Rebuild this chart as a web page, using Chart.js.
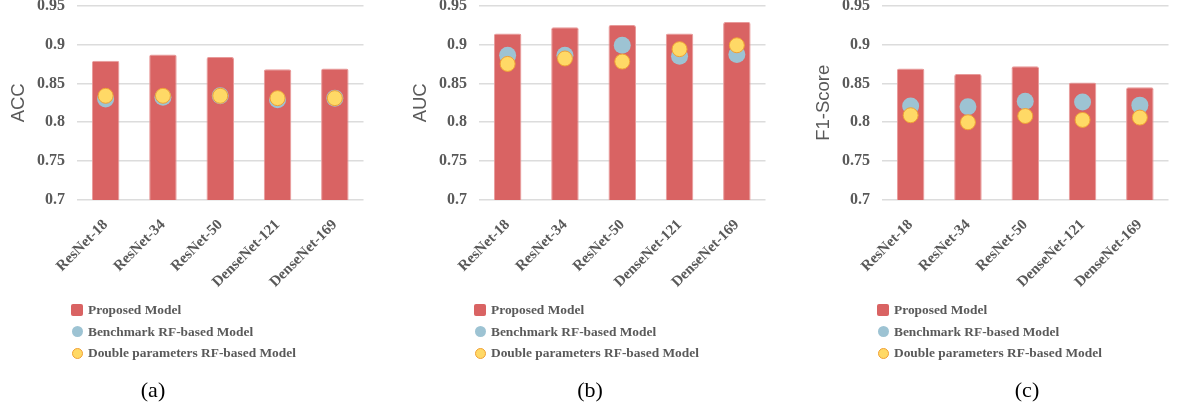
<!DOCTYPE html>
<html>
<head>
<meta charset="utf-8">
<script src="https://cdn.jsdelivr.net/npm/chart.js@4.4.1/dist/chart.umd.min.js"></script>
<style>
  body { margin: 0; background: #fff; }
  #page { position: relative; width: 1177px; height: 413px; overflow: hidden; background: #fff; }
  .panel { position: absolute; top: -16px; }
  .legend {
    position: absolute; top: 299.5px;
    font: bold 13.4px "Liberation Serif", "Times New Roman", serif; color: #595959;
  }
  .legend .item { height: 21.5px; display: flex; align-items: center; white-space: nowrap; }
  .legend .mark { box-sizing: border-box; margin-right: 5px; }
  .legend .box { width: 12px; height: 12px; border-radius: 2px; }
  .legend .dot { width: 11px; height: 11px; border-radius: 50%; margin-left: 0.5px; margin-right: 5.5px; }
  .caption {
    position: absolute; top: 377px; transform: translateX(-50%);
    font: 22px "Liberation Serif", "Times New Roman", serif; color: #000;
  }
</style>
</head>
<body>
<div id="page">
  <canvas class="panel" id="accChart" width="372" height="320" style="left:0px"></canvas>
  <canvas class="panel" id="aucChart" width="372" height="320" style="left:402px"></canvas>
  <canvas class="panel" id="f1Chart" width="372" height="320" style="left:805px"></canvas>

  <div class="legend" id="accLegend" style="left:71px"></div>
  <div class="legend" id="aucLegend" style="left:474px"></div>
  <div class="legend" id="f1Legend" style="left:877px"></div>

  <div class="caption" style="left:153px">(a)</div>
  <div class="caption" style="left:590px">(b)</div>
  <div class="caption" style="left:1027px">(c)</div>
</div>
<script>
const models = ['ResNet-18', 'ResNet-34', 'ResNet-50', 'DenseNet-121', 'DenseNet-169'];
const seriesNames = ['Proposed Model', 'Benchmark RF-based Model', 'Double parameters RF-based Model'];
const yTicks = [0.7, 0.75, 0.8, 0.85, 0.9, 0.95];

const accProposed = [0.879, 0.887, 0.884, 0.868, 0.869];
const accBenchmark = [0.830, 0.832, 0.834, 0.829, 0.831];
const accDouble = [0.834, 0.834, 0.834, 0.831, 0.831];

const aucProposed = [0.914, 0.922, 0.925, 0.914, 0.929];
const aucBenchmark = [0.886, 0.886, 0.899, 0.885, 0.887];
const aucDouble = [0.875, 0.882, 0.878, 0.894, 0.899];

const f1Proposed = [0.869, 0.862, 0.872, 0.851, 0.845];
const f1Benchmark = [0.821, 0.820, 0.827, 0.826, 0.822];
const f1Double = [0.809, 0.800, 0.808, 0.803, 0.806];

const RED = '#D96363';
const BLUE = '#9DC3D3';
const YELLOW = '#FFD966';
const ORANGE = '#F0A035';
const GREY_TEXT = '#595959';
const SERIF = '"Liberation Serif", "Times New Roman", serif';

function buildLegend(el) {
    const marks = [
        `<span class="mark box" style="background:${RED}"></span>`,
        `<span class="mark dot" style="background:${BLUE}"></span>`,
        `<span class="mark dot" style="background:${YELLOW};border:1px solid ${ORANGE}"></span>`
    ];
    el.innerHTML = seriesNames
        .map((name, i) => `<div class="item">${marks[i]}<span>${name}</span></div>`)
        .join('');
}

function makeChart(canvas, axisTitle, proposed, benchmark, doubled) {
    new Chart(canvas, {
        data: {
            labels: models,
            datasets: [
                {
                    type: 'line',
                    label: seriesNames[2],
                    data: doubled,
                    showLine: false,
                    pointRadius: 7.5,
                    pointBackgroundColor: YELLOW,
                    pointBorderColor: ORANGE,
                    pointBorderWidth: 1,
                    order: 1
                },
                {
                    type: 'line',
                    label: seriesNames[1],
                    data: benchmark,
                    showLine: false,
                    pointRadius: 8.5,
                    pointBackgroundColor: BLUE,
                    pointBorderWidth: 0,
                    order: 2
                },
                {
                    type: 'bar',
                    label: seriesNames[0],
                    data: proposed,
                    backgroundColor: RED,
                    borderColor: '#E89A9A',
                    borderWidth: 1,
                    borderRadius: 2,
                    borderSkipped: 'bottom',
                    barPercentage: 0.48,
                    categoryPercentage: 1,
                    order: 3
                }
            ]
        },
        options: {
            responsive: false,
            animation: false,
            devicePixelRatio: 1,
            // extra room below the axis box so the long rotated labels are not clipped
            layout: {padding: {bottom: 14}},
            plugins: {
                legend: {display: false},
                tooltip: {enabled: false}
            },
            scales: {
                x: {
                    type: 'category',
                    offset: true,
                    grid: {display: false},
                    border: {display: false},
                    afterFit: (scale) => { scale.height = 90; },
                    ticks: {
                        minRotation: 45,
                        maxRotation: 45,
                        padding: 8,
                        color: GREY_TEXT,
                        font: {family: SERIF, size: 15, weight: 'bold'}
                    }
                },
                y: {
                    min: 0.7,
                    max: 0.95,
                    afterFit: (scale) => { scale.width = 77; },
                    afterBuildTicks: (scale) => { scale.ticks = yTicks.map(v => ({value: v})); },
                    grid: {color: '#DCDCDC', lineWidth: 1.5, drawTicks: false},
                    border: {display: false},
                    ticks: {
                        padding: 12,
                        color: GREY_TEXT,
                        font: {family: SERIF, size: 16, weight: 'bold'},
                        callback: (v) => String(v)
                    },
                    title: {
                        display: true,
                        text: axisTitle,
                        color: GREY_TEXT,
                        padding: {top: 7.5, bottom: 0},
                        font: {family: '"Liberation Sans", Arial, sans-serif', size: 18.5}
                    }
                }
            }
        }
    });
}

makeChart(document.getElementById('accChart'), 'ACC', accProposed, accBenchmark, accDouble);
makeChart(document.getElementById('aucChart'), 'AUC', aucProposed, aucBenchmark, aucDouble);
makeChart(document.getElementById('f1Chart'), 'F1-Score', f1Proposed, f1Benchmark, f1Double);

buildLegend(document.getElementById('accLegend'));
buildLegend(document.getElementById('aucLegend'));
buildLegend(document.getElementById('f1Legend'));
</script>
</body>
</html>
